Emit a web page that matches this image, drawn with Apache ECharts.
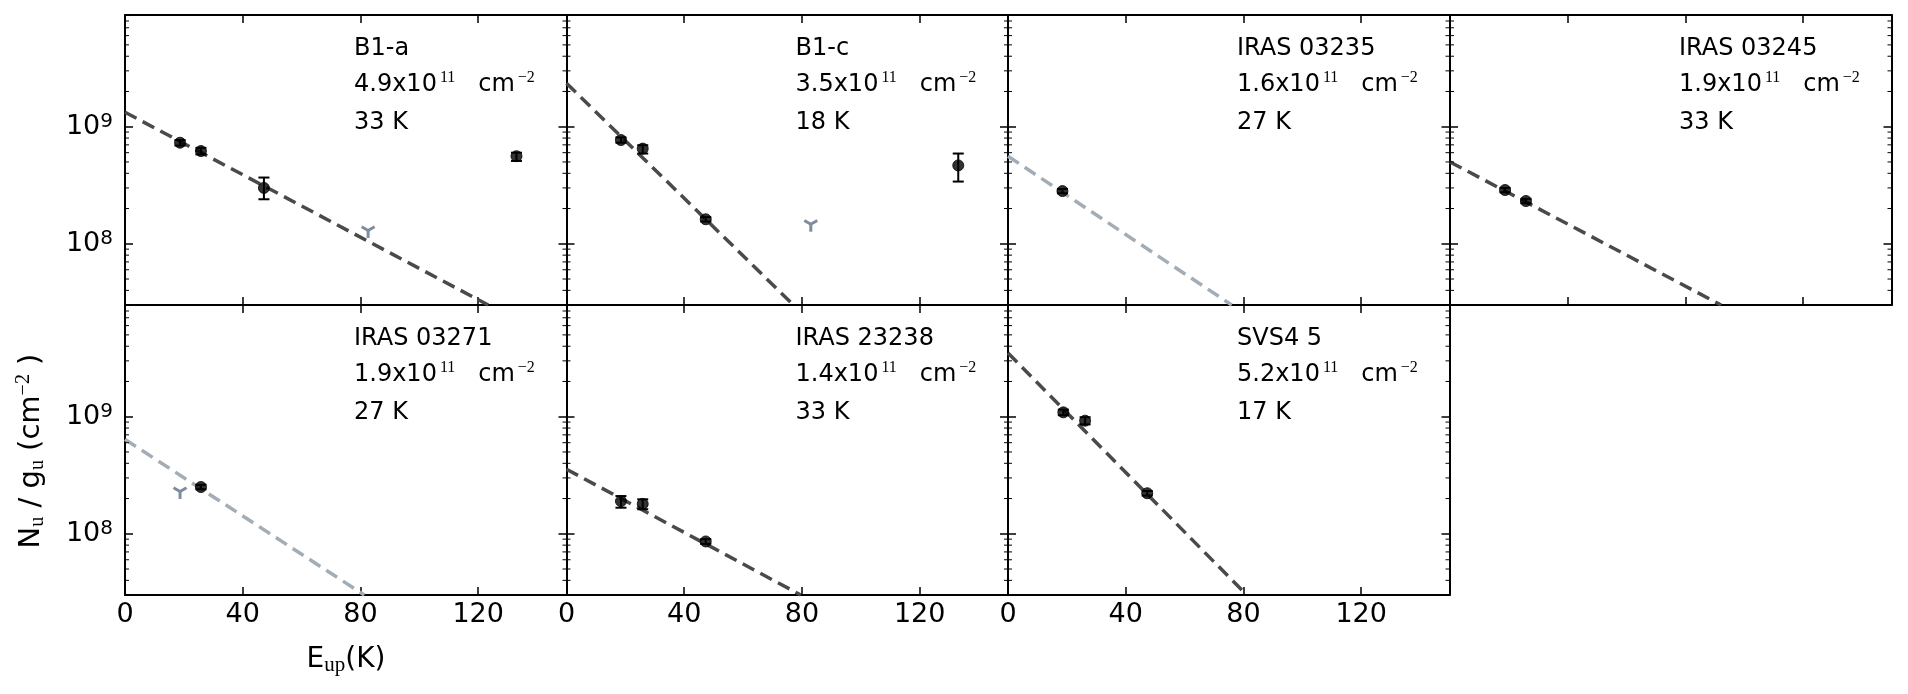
<!DOCTYPE html>
<html><head><meta charset="utf-8">
<script src="https://cdn.jsdelivr.net/npm/echarts@6/dist/echarts.min.js"></script>
<style>html,body{margin:0;padding:0;background:#fff}#c{width:1908px;height:694px}</style>
</head><body><div id="c"></div>
<script>
// ---------------- DATA ----------------
const panelNames = ['B1-a', 'B1-c', 'IRAS 03235', 'IRAS 03245', 'IRAS 03271', 'IRAS 23238', 'SVS4 5'];
const columnDensity = ['4.9', '3.5', '1.6', '1.9', '1.9', '1.4', '5.2'];   // x10^11 cm^-2
const rotTemperature = ['33', '18', '27', '33', '27', '33', '17'];          // K
const xTickValues = [0, 40, 80, 120];
const yTickExponents = [8, 9];

// detections: [E_up (K), N_u/g_u, lower, upper]
const detB1a = [[18.7, 7.3e8, 6.9e8, 7.7e8], [25.8, 6.2e8, 5.8e8, 6.6e8], [47.2, 3.0e8, 2.4e8, 3.68e8], [133.0, 5.6e8, 5.1e8, 6.0e8]];
const detB1c = [[18.5, 7.7e8, 7.3e8, 8.1e8], [25.9, 6.5e8, 5.9e8, 6.95e8], [47.3, 1.62e8, 1.55e8, 1.69e8], [133.1, 4.67e8, 3.4e8, 5.9e8]];
const detI03235 = [[18.5, 2.82e8, 2.7e8, 2.94e8]];
const detI03245 = [[18.7, 2.88e8, 2.75e8, 3.0e8], [25.8, 2.32e8, 2.22e8, 2.42e8]];
const detI03271 = [[25.8, 2.51e8, 2.4e8, 2.62e8]];
const detI23238 = [[18.5, 1.9e8, 1.67e8, 2.1e8], [25.9, 1.8e8, 1.62e8, 1.97e8], [47.3, 8.6e7, 8.2e7, 9.0e7]];
const detSVS45 = [[18.8, 1.09e9, 1.03e9, 1.15e9], [26.2, 9.25e8, 8.6e8, 9.9e8], [47.3, 2.22e8, 2.12e8, 2.32e8]];

// upper limits: [E_up, N_u/g_u]
const limB1a = [[82.6, 1.3e8]];
const limB1c = [[83.0, 1.47e8]];
const limI03271 = [[18.7, 2.3e8]];

// rotational-diagram fits (end points)
const fitB1a = [[0, 1.33e9], [123.4, 3.0e7]];
const fitB1c = [[0, 2.35e9], [77.1, 3.0e7]];
const fitI03235 = [[0, 5.6e8], [76.0, 3.0e7]];
const fitI03245 = [[0, 5.0e8], [92.1, 3.0e7]];
const fitI03271 = [[0, 6.4e8], [81.3, 3.0e7]];
const fitI23238 = [[0, 3.56e8], [79.6, 3.0e7]];
const fitSVS45 = [[0, 3.5e9], [81.1, 3.0e7]];

const minorMultipliers = [2, 3, 4, 5, 6, 7, 8, 9];

// ---------------- LAYOUT / STYLE ----------------
const X_MIN = 0, X_MAX = 150, X_INTERVAL = 40;
const Y_MIN = 3e7, Y_MAX = 9e9;
const colLeft = [125, 566.5, 1008, 1450];
const rowTop = [15, 305];
const panelW = 441.5, panelH = 290;
const FONT = 'DejaVu Sans';
const SERIF = 'Liberation Serif';
const DARK = '#4a4a4a';
const LIGHT = '#a3adb8';
const LIMIT = '#7d8da0';

const panels = [
  {det: detB1a, lim: limB1a, fit: fitB1a, light: false, row: 0, col: 0},
  {det: detB1c, lim: limB1c, fit: fitB1c, light: false, row: 0, col: 1},
  {det: detI03235, lim: [], fit: fitI03235, light: true, row: 0, col: 2},
  {det: detI03245, lim: [], fit: fitI03245, light: false, row: 0, col: 3},
  {det: detI03271, lim: limI03271, fit: fitI03271, light: true, row: 1, col: 0},
  {det: detI23238, lim: [], fit: fitI23238, light: false, row: 1, col: 1},
  {det: detSVS45, lim: [], fit: fitSVS45, light: false, row: 1, col: 2}
];

// minor tick positions on the log axis (axis decoration)
const minorVals = [];
for (let e = 7; e <= 9; e++) minorMultipliers.forEach(m => { const v = m * Math.pow(10, e); if (v >= Y_MIN && v < Y_MAX) minorVals.push([X_MIN, v]); });

const grids = [], xAxes = [], yAxes = [], series = [], graphics = [];

panels.forEach((p, i) => {
  const left = colLeft[p.col], top = rowTop[p.row];
  grids.push({left: left, top: top, width: panelW, height: panelH, containLabel: false, outerBoundsMode: 'none'});
  const showX = p.row === 1;
  const showY = p.col === 0;
  const axisLine = {show: true, onZero: false, lineStyle: {color: '#000', width: 2}};
  const tick = {show: true, inside: true, length: 8, lineStyle: {color: '#000', width: 1.5}};
  const xBase = {gridIndex: i, type: 'value', min: X_MIN, max: X_MAX, interval: X_INTERVAL,
    axisLine: axisLine, axisTick: tick, splitLine: {show: false}};
  xAxes.push(Object.assign({}, xBase, {position: 'bottom',
    axisLabel: {show: showX, fontFamily: FONT, fontSize: 27, color: '#000', margin: 6, showMaxLabel: false,
      formatter: v => xTickValues.indexOf(v) >= 0 ? String(v) : ''}}));
  xAxes.push(Object.assign({}, xBase, {position: 'top', axisLabel: {show: false}}));
  const yBase = {gridIndex: i, type: 'log', logBase: 10, min: Y_MIN, max: Y_MAX,
    axisLine: axisLine, axisTick: tick, splitLine: {show: false}, minorTick: {show: false}};
  yAxes.push(Object.assign({}, yBase, {position: 'left',
    axisLabel: {show: showY, margin: 12, showMinLabel: false, showMaxLabel: false,
      formatter: v => {
        const lg = Math.log10(v), e = Math.round(lg);
        if (Math.abs(lg - e) > 1e-6 || yTickExponents.indexOf(e) < 0) return '';
        return '{b|10}{s|' + e + '}';
      },
      rich: {
        b: {fontFamily: FONT, fontSize: 27, color: '#000', lineHeight: 30},
        s: {fontFamily: FONT, fontSize: 20, color: '#000', lineHeight: 18, verticalAlign: 'top'}
      }}}));
  yAxes.push(Object.assign({}, yBase, {position: 'right', axisLabel: {show: false}}));

  const xi = 2 * i, yi = 2 * i;
  // fit line
  series.push({type: 'line', xAxisIndex: xi, yAxisIndex: yi, data: p.fit, symbol: 'none', silent: true, z: 2,
    lineStyle: {color: p.light ? LIGHT : DARK, width: 3.5, type: [13, 7], cap: 'butt'}});
  // error bars
  series.push({type: 'custom', xAxisIndex: xi, yAxisIndex: yi, silent: true, z: 3,
    data: p.det.map(d => [d[0], d[2], d[3]]),
    renderItem: (params, api) => {
      const lo = api.coord([api.value(0), api.value(1)]);
      const hi = api.coord([api.value(0), api.value(2)]);
      const st = {stroke: '#000', lineWidth: 2};
      const cw = 5.5;
      return {type: 'group', children: [
        {type: 'line', shape: {x1: lo[0], y1: lo[1], x2: hi[0], y2: hi[1]}, style: st},
        {type: 'line', shape: {x1: lo[0] - cw, y1: lo[1], x2: lo[0] + cw, y2: lo[1]}, style: st},
        {type: 'line', shape: {x1: hi[0] - cw, y1: hi[1], x2: hi[0] + cw, y2: hi[1]}, style: st}
      ]};
    }});
  // detections
  series.push({type: 'scatter', xAxisIndex: xi, yAxisIndex: yi, silent: true, z: 4,
    data: p.det.map(d => [d[0], d[1]]), symbol: 'circle', symbolSize: 11,
    itemStyle: {color: '#000', borderColor: '#000', borderWidth: 1}});
  // upper limits (tri_down marker)
  if (p.lim.length) series.push({type: 'custom', xAxisIndex: xi, yAxisIndex: yi, silent: true, z: 4,
    data: p.lim,
    renderItem: (params, api) => {
      const c = api.coord([api.value(0), api.value(1)]);
      const r = 7.5;
      const st = {stroke: LIMIT, lineWidth: 3, lineCap: 'butt'};
      return {type: 'group', children: [
        {type: 'line', shape: {x1: c[0], y1: c[1], x2: c[0], y2: c[1] + r}, style: st},
        {type: 'line', shape: {x1: c[0], y1: c[1], x2: c[0] - 0.866 * r, y2: c[1] - 0.5 * r}, style: st},
        {type: 'line', shape: {x1: c[0], y1: c[1], x2: c[0] + 0.866 * r, y2: c[1] - 0.5 * r}, style: st}
      ]};
    }});
  // log minor ticks on left and right edges
  series.push({type: 'custom', xAxisIndex: xi, yAxisIndex: yi, silent: true, z: 5, data: minorVals,
    renderItem: (params, api) => {
      const a = api.coord([X_MIN, api.value(1)]);
      const b = api.coord([X_MAX, api.value(1)]);
      const st = {stroke: '#000', lineWidth: 1};
      return {type: 'group', children: [
        {type: 'line', shape: {x1: a[0], y1: a[1], x2: a[0] + 4, y2: a[1]}, style: st},
        {type: 'line', shape: {x1: b[0], y1: b[1], x2: b[0] - 4, y2: b[1]}, style: st}
      ]};
    }});

  // annotation text
  const tx = left + 229;
  const nStyle = {fontFamily: FONT, fontSize: 24, fill: '#000', lineHeight: 30};
  graphics.push({type: 'text', x: tx, y: top + 34, silent: true,
    style: {text: panelNames[i], fontFamily: FONT, fontSize: 24, fill: '#000', align: 'left', verticalAlign: 'middle'}});
  graphics.push({type: 'text', x: tx, y: top + 70, silent: true,
    style: {text: '{n|' + columnDensity[i] + 'x10}{s|11}{n|   cm}{s|\u22122}', align: 'left', verticalAlign: 'middle',
      rich: {n: nStyle, s: {fontFamily: SERIF, fontSize: 16, fill: '#000', lineHeight: 16, verticalAlign: 'top', padding: [0, 0, 0, 3]}}}});
  graphics.push({type: 'text', x: tx, y: top + 107.4, silent: true,
    style: {text: rotTemperature[i] + ' K', fontFamily: FONT, fontSize: 24, fill: '#000', align: 'left', verticalAlign: 'middle'}});
});

// axis titles
graphics.push({type: 'text', x: 31, y: 451, rotation: Math.PI / 2, silent: true,
  style: {text: '{n|N}{d|u}{n| / g}{d|u}{n| (cm}{s|\u22122}{n| )}', align: 'center', verticalAlign: 'middle',
    rich: {
      n: {fontFamily: FONT, fontSize: 29, fill: '#000', lineHeight: 34},
      d: {fontFamily: SERIF, fontSize: 20, fill: '#000', lineHeight: 14, verticalAlign: 'bottom'},
      s: {fontFamily: SERIF, fontSize: 20, fill: '#000', lineHeight: 16, verticalAlign: 'top'}
    }}});
graphics.push({type: 'text', x: 346, y: 660, silent: true,
  style: {text: '{n|E}{d|up}{n|(K)}', align: 'center', verticalAlign: 'middle',
    rich: {
      n: {fontFamily: FONT, fontSize: 28, fill: '#000', lineHeight: 32},
      d: {fontFamily: SERIF, fontSize: 21, fill: '#000', lineHeight: 16, verticalAlign: 'bottom'}
    }}});

const chart = echarts.init(document.getElementById('c'), null, {renderer: 'canvas'});
chart.setOption({
  animation: false,
  backgroundColor: '#fff',
  grid: grids,
  xAxis: xAxes,
  yAxis: yAxes,
  series: series,
  graphic: graphics
});
</script></body></html>
